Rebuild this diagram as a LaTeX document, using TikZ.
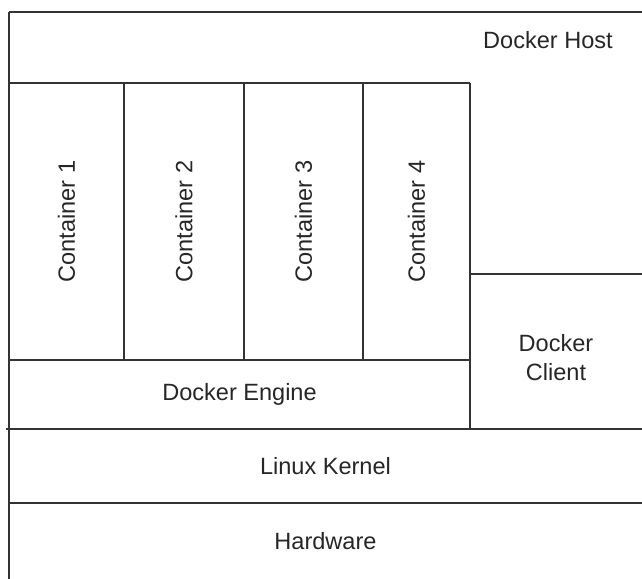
\documentclass[tikz,border=0pt]{standalone}
\usepackage{fontspec}
\setmainfont{Liberation Sans}
\usepackage{tikz}
\usetikzlibrary{positioning}
\tikzset{font=\fontsize{13.4}{16.5}\selectfont}
\tikzset{layer/.style={line width=0.6pt, draw=black!80}}
\tikzset{lbl/.style={inner sep=0pt, text=black!85, align=center}}

\begin{document}
\begin{tikzpicture}
      \useasboundingbox (0, 0) rectangle (12.84, 11.58);%
      % outer frame and layers
      \draw [layer] (0.18, 11.34) -- (12.84, 11.34);%
      \draw [layer] (0.18, 11.34) -- (0.18, 0);%
      \draw [layer] (0.18, 9.92) -- (9.4, 9.92);%
      \draw [layer] (0.18, 4.38) -- (9.4, 4.38);%
      \draw [layer] (9.4, 9.92) -- (9.4, 3.0);%
      \draw [layer] (9.4, 6.1) -- (12.84, 6.1);%
      \draw [layer] (0.12, 3.0) -- (12.84, 3.0);%
      \draw [layer] (0.18, 1.52) -- (12.84, 1.52);%
      % container walls
      \foreach \x in {2.48, 4.88, 7.26}
        \draw [layer] (\x, 9.92) -- (\x, 4.38);%
      \node [lbl] (host) at (10.96, 10.78) {Docker Host};%
      \node [lbl, rotate=90] (c1) at (1.33, 7.15) {Container 1};%
      \node [lbl, rotate=90] (c2) at (3.68, 7.15) {Container 2};%
      \node [lbl, rotate=90] (c3) at (6.07, 7.15) {Container 3};%
      \node [lbl, rotate=90] (c4) at (8.33, 7.15) {Container 4};%
      \node [lbl] (engine) at (4.79, 3.69) {Docker Engine};%
      \node [lbl] (client) at (11.12, 4.42) {Docker\\Client};%
      \node [lbl] (kernel) at (6.51, 2.26) {Linux Kernel};%
      \node [lbl] (hw) at (6.51, 0.76) {Hardware};%
    \end{tikzpicture}
\end{document}
